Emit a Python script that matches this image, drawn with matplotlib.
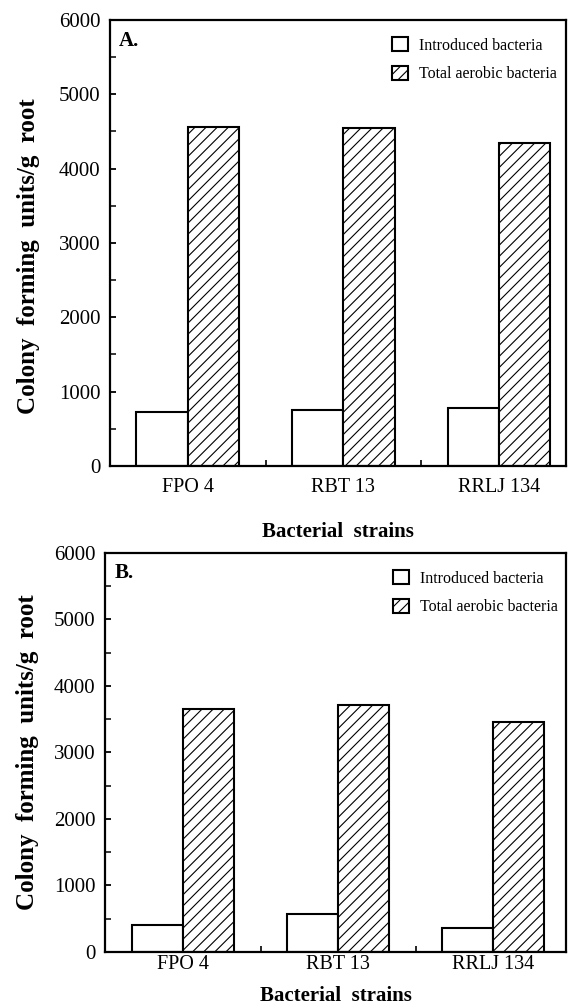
import matplotlib
matplotlib.use("Agg")
import matplotlib.pyplot as plt
import numpy as np
from matplotlib.ticker import MultipleLocator, FixedLocator

strains = ["FPO 4", "RBT 13", "RRLJ 134"]
introduced_a = [720, 750, 780]
total_a = [4560, 4540, 4340]
introduced_b = [410, 570, 360]
total_b = [3650, 3720, 3460]

plt.rcParams["font.family"] = ["Liberation Serif", "DejaVu Serif"]
plt.rcParams["hatch.linewidth"] = 0.8

fig = plt.figure(figsize=(5.72, 10.08), dpi=100)


def draw_panel(ax, introduced, total, tag, xlim, tick_pad, xlab_pad,
               leg_anchor, ylab_xy):
    x = np.arange(len(strains))
    w = 0.33
    ax.bar(x - w / 2, introduced, w, color="white", edgecolor="black",
           linewidth=1.5, label="Introduced bacteria")
    ax.bar(x + w / 2, total, w, color="white", edgecolor="black",
           linewidth=1.5, hatch="///", label="Total aerobic bacteria")
    ax.set_xlim(*xlim)
    ax.set_ylim(0, 6000)
    ax.set_xticks(x)
    ax.set_xticklabels(strains, fontsize=14.5)
    ax.xaxis.set_minor_locator(FixedLocator([0.5, 1.5]))
    ax.yaxis.set_major_locator(MultipleLocator(1000))
    ax.yaxis.set_minor_locator(MultipleLocator(500))
    ax.tick_params(axis="y", which="major", direction="in", length=4,
                   width=1.3, labelsize=15, pad=7)
    ax.tick_params(axis="y", which="minor", direction="in", length=4, width=1.1)
    ax.tick_params(axis="x", which="major", length=0, pad=tick_pad)
    ax.tick_params(axis="x", which="minor", direction="in", length=4, width=1.2)
    for s in ax.spines.values():
        s.set_linewidth(1.6)
    ax.set_xlabel("Bacterial  strains", fontsize=15, fontweight="bold",
                  labelpad=xlab_pad)
    ax.set_ylabel("Colony  forming  units/g  root", fontsize=18,
                  fontweight="bold")
    ax.yaxis.set_label_coords(*ylab_xy)
    ax.text(0.02, 0.975, tag, transform=ax.transAxes, fontsize=15,
            fontweight="bold", va="top", ha="left")
    ax.legend(loc="upper left", bbox_to_anchor=leg_anchor, frameon=False,
              fontsize=11.5, handlelength=1.0, handleheight=1.0,
              handletextpad=0.7, labelspacing=0.75, borderpad=0,
              borderaxespad=0)


ax1 = fig.add_axes([0.1923, 0.5377, 0.797, 0.4425])
draw_panel(ax1, introduced_a, total_a, "A.", (-0.50, 2.43), 8.5, 18,
           (0.618, 0.962), (-0.153, 0.47))
ax2 = fig.add_axes([0.1836, 0.0556, 0.806, 0.3958])
draw_panel(ax2, introduced_b, total_b, "B.", (-0.503, 2.47), 2.5, 8.5,
           (0.625, 0.957), (-0.143, 0.5))

fig.savefig("out.png", dpi=100)
